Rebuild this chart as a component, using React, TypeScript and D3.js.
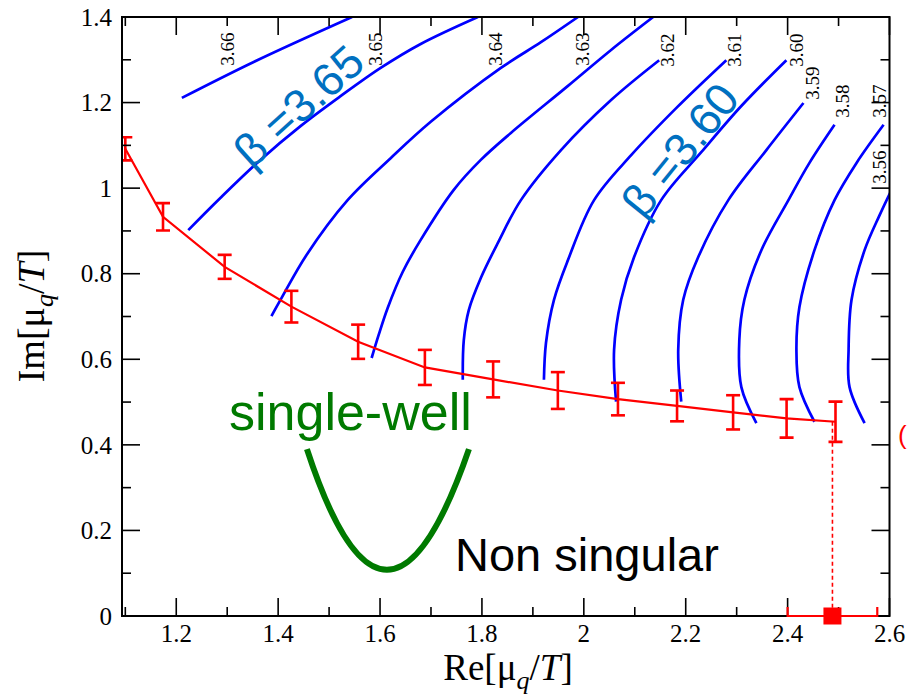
import React from 'react';
import * as d3 from 'd3';

// ---- axis ticks ----
const xTicks = [1.2, 1.4, 1.6, 1.8, 2.0, 2.2, 2.4, 2.6];
const xTickLabels = ['1.2', '1.4', '1.6', '1.8', '2', '2.2', '2.4', '2.6'];
const xMinor = [1.1, 1.3, 1.5, 1.7, 1.9, 2.1, 2.3, 2.5];
const yTicks = [0, 0.2, 0.4, 0.6, 0.8, 1.0, 1.2, 1.4];
const yTickLabels = ['0', '0.2', '0.4', '0.6', '0.8', '1', '1.2', '1.4'];
const yMinor = [0.1, 0.3, 0.5, 0.7, 0.9, 1.1, 1.3];

// ---- red transition line with error bars ----
const redX = [1.100, 1.174, 1.295, 1.426, 1.557, 1.688, 1.822, 1.949, 2.067, 2.183, 2.293, 2.398, 2.494];
const redY = [1.092, 0.933, 0.816, 0.723, 0.641, 0.581, 0.553, 0.527, 0.507, 0.491, 0.476, 0.462, 0.454];
const redErr = [0.027, 0.032, 0.028, 0.037, 0.040, 0.041, 0.042, 0.043, 0.038, 0.036, 0.040, 0.045, 0.047];

// endpoint on the real axis
const endX = 2.488;
const endXLo = 2.400;
const endXHi = 2.576;

// ---- blue contour lines (beta values) ----
const c366 = [[1.211, 1.211], [1.352, 1.295], [1.545, 1.40]];
const c365 = [[1.2236, 0.902], [1.2865, 0.977], [1.3652, 1.066], [1.4439, 1.145], [1.5225, 1.215], [1.6012, 1.281], [1.6798, 1.337], [1.792, 1.40]];
const c364 = [[1.3868, 0.701], [1.4065, 0.743], [1.4557, 0.844], [1.5363, 0.972], [1.6208, 1.070], [1.6995, 1.155], [1.8372, 1.281], [1.9158, 1.341], [1.9886, 1.40]];
const c363 = [[1.5835, 0.603], [1.5973, 0.657], [1.6150, 0.720], [1.6444, 0.804], [1.6798, 0.879], [1.7447, 0.996], [1.7978, 1.066], [1.8568, 1.129], [1.9689, 1.239], [2.0535, 1.323], [2.1361, 1.40]];
const c362 = [[1.7624, 0.552], [1.7644, 0.645], [1.7742, 0.715], [1.7978, 0.790], [1.8313, 0.872], [1.8765, 0.972], [1.9552, 1.089], [2.0535, 1.206], [2.1479, 1.299]];
const c361 = [[1.9217, 0.552], [1.9257, 0.638], [1.9414, 0.739], [1.9689, 0.832], [2.0201, 0.972], [2.0929, 1.077], [2.1813, 1.187], [2.2797, 1.299]];
const c360 = [[2.0633, 0.501], [2.0594, 0.622], [2.0732, 0.739], [2.0987, 0.839], [2.1518, 0.972], [2.2305, 1.084], [2.3091, 1.192], [2.3976, 1.299]];
const c359 = [[2.1912, 0.501], [2.1853, 0.622], [2.1951, 0.739], [2.2246, 0.839], [2.2836, 0.972], [2.3583, 1.089], [2.4311, 1.199]];
const c358 = [[2.3387, 0.451], [2.3092, 0.535], [2.3052, 0.645], [2.3151, 0.739], [2.3485, 0.855], [2.4016, 0.972], [2.4429, 1.059], [2.4921, 1.148]];
const c357 = [[2.4527, 0.454], [2.4232, 0.535], [2.4173, 0.622], [2.4232, 0.722], [2.4527, 0.855], [2.4921, 0.972], [2.5353, 1.059], [2.5884, 1.148]];
const c356 = [[2.5511, 0.451], [2.5216, 0.535], [2.5197, 0.622], [2.5255, 0.739], [2.5511, 0.855], [2.5806, 0.937], [2.602, 0.991]];
const contours = [c366, c365, c364, c363, c362, c361, c360, c359, c358, c357, c356];

// contour labels
const contourLabels = ['3.66', '3.65', '3.64', '3.63', '3.62', '3.61', '3.60', '3.59', '3.58', '3.57', '3.56'];
const contourLabelX = [1.2996, 1.5901, 1.8256, 1.9964, 2.1632, 2.2947, 2.4164, 2.4478, 2.5067, 2.5793, 2.5793];
const contourLabelY = [1.325, 1.325, 1.325, 1.325, 1.3227, 1.3227, 1.3227, 1.2456, 1.2036, 1.2036, 1.0493];

// beta annotations
const betaTexts = ['\u03B2 =3.65', '\u03B2 =3.60'];
const betaX = [1.440, 2.1887];
const betaY = [1.192, 1.0894];
const betaAngle = [-42, -51];

// single-well sketch (left top, bottom, right top)
const wellX = [1.4565, 1.6135, 1.7745];
const wellY = [0.390, 0.108, 0.390];

const W = 907;
const H = 698;

export default function App() {
  const x = d3.scaleLinear().domain([1.0935, 2.6]).range([122, 889.5]);
  const y = d3.scaleLinear().domain([0, 1.4]).range([616, 17]);
  const [x0, x1] = x.range();
  const [y0, y1] = y.range();

  const blueLine = d3
    .line<number[]>()
    .x((d) => x(d[0]))
    .y((d) => y(d[1]))
    .curve(d3.curveCatmullRom.alpha(0.5));

  const redPts = redX.map((v, i) => [v, redY[i]]);
  const redLine = d3
    .line<number[]>()
    .x((d) => x(d[0]))
    .y((d) => y(d[1]));

  // quadratic well
  const wl = [x(wellX[0]), y(wellY[0])];
  const wb = [x(wellX[1]), y(wellY[1])];
  const wr = [x(wellX[2]), y(wellY[2])];
  const cx = 2 * wb[0] - 0.5 * (wl[0] + wr[0]);
  const cy = 2 * wb[1] - 0.5 * (wl[1] + wr[1]);
  const wellPath = `M${wl[0]},${wl[1]} Q${cx},${cy} ${wr[0]},${wr[1]}`;

  const serif = "'Liberation Serif', 'DejaVu Serif', serif";
  const sans = "'Liberation Sans', Arial, sans-serif";
  const capW = 7;

  return (
    <div style={{ position: 'absolute', left: 0, top: 0, width: W, height: H, background: '#fff' }}>
      <svg width={W} height={H} style={{ display: 'block' }}>
        <defs>
          <clipPath id="plotClip">
            <rect x={x0} y={y1} width={x1 - x0} height={y0 - y1} />
          </clipPath>
        </defs>
        <rect width={W} height={H} fill="#fff" />

        {/* blue contours */}
        <g clipPath="url(#plotClip)">
          {contours.map((c, i) => (
            <path key={i} d={blueLine(c) || ''} fill="none" stroke="#0000ff" strokeWidth={2.7} />
          ))}
        </g>

        {/* red line + error bars */}
        <g clipPath="url(#plotClip)">
          <path d={redLine(redPts) || ''} fill="none" stroke="#ff0000" strokeWidth={2.2} />
          {redX.map((v, i) => {
            const px = x(v);
            const top = y(redY[i] + redErr[i]);
            const bot = y(redY[i] - redErr[i]);
            return (
              <g key={i} stroke="#ff0000" strokeWidth={2.6}>
                <line x1={px} x2={px} y1={top} y2={bot} />
                <line x1={px - capW} x2={px + capW} y1={top} y2={top} />
                <line x1={px - capW} x2={px + capW} y1={bot} y2={bot} />
              </g>
            );
          })}
          <line
            x1={x(endX)}
            x2={x(endX)}
            y1={y(redY[redY.length - 1])}
            y2={y(0)}
            stroke="#ff0000"
            strokeWidth={1.6}
            strokeDasharray="4,3"
          />
        </g>

        {/* contour labels */}
        {contourLabels.map((t, i) => (
          <text
            key={t}
            transform={`translate(${x(contourLabelX[i])},${y(contourLabelY[i])}) rotate(-90)`}
            textAnchor="middle"
            dy="0.35em"
            fontFamily={serif}
            fontSize={19}
            fill="#000"
          >
            {t}
          </text>
        ))}

        {/* beta annotations */}
        {betaTexts.map((t, i) => (
          <text
            key={t}
            transform={`translate(${x(betaX[i])},${y(betaY[i])}) rotate(${betaAngle[i]})`}
            textAnchor="middle"
            dy="0.35em"
            fontFamily={sans}
            fontSize={46}
            fill="#0070c0"
          >
            {t}
          </text>
        ))}

        {/* single well */}
        <path d={wellPath} fill="none" stroke="#007a00" strokeWidth={6} strokeLinecap="butt" />
        <text x={229} y={430} fontFamily={sans} fontSize={52} fill="#007a00">
          single-well
        </text>
        <text x={455} y={571} fontFamily={sans} fontSize={47} fill="#000">
          Non singular
        </text>
        <text x={898} y={444} fontFamily={sans} fontSize={26} fill="#ff0000">
          (
        </text>

        {/* frame */}
        <rect x={x0} y={y1} width={x1 - x0} height={y0 - y1} fill="none" stroke="#000" strokeWidth={2} />

        {/* ticks */}
        <g stroke="#000" strokeWidth={1.6}>
          {xTicks.map((v) => (
            <g key={'xt' + v}>
              <line x1={x(v)} x2={x(v)} y1={y0} y2={y0 - 18} />
              <line x1={x(v)} x2={x(v)} y1={y1} y2={y1 + 18} />
            </g>
          ))}
          {xMinor.map((v) => (
            <g key={'xm' + v}>
              <line x1={x(v)} x2={x(v)} y1={y0} y2={y0 - 9} />
              <line x1={x(v)} x2={x(v)} y1={y1} y2={y1 + 9} />
            </g>
          ))}
          {yTicks.map((v) => (
            <g key={'yt' + v}>
              <line x1={x0} x2={x0 + 18} y1={y(v)} y2={y(v)} />
              <line x1={x1} x2={x1 - 18} y1={y(v)} y2={y(v)} />
            </g>
          ))}
          {yMinor.map((v) => (
            <g key={'ym' + v}>
              <line x1={x0} x2={x0 + 9} y1={y(v)} y2={y(v)} />
              <line x1={x1} x2={x1 - 9} y1={y(v)} y2={y(v)} />
            </g>
          ))}
        </g>

        {/* endpoint marker on the real axis */}
        <g stroke="#ff0000" strokeWidth={2.2}>
          <line x1={x(endXLo)} x2={x(endXHi)} y1={y(0)} y2={y(0)} />
          <line x1={x(endXLo)} x2={x(endXLo)} y1={y(0) - 9} y2={y(0) + 1} />
          <line x1={x(endXHi)} x2={x(endXHi)} y1={y(0) - 9} y2={y(0) + 1} />
        </g>
        <rect x={x(endX) - 9} y={y(0) - 8.5} width={18} height={17} fill="#ff0000" />

        {/* tick labels */}
        {xTicks.map((v, i) => (
          <text key={'xl' + v} x={x(v)} y={642} textAnchor="middle" fontFamily={serif} fontSize={25} fill="#000">
            {xTickLabels[i]}
          </text>
        ))}
        {yTicks.map((v, i) => (
          <text
            key={'yl' + v}
            x={112}
            y={y(v)}
            dy="0.35em"
            textAnchor="end"
            fontFamily={serif}
            fontSize={25}
            fill="#000"
          >
            {yTickLabels[i]}
          </text>
        ))}

        {/* axis titles */}
        <text x={508} y={680} textAnchor="middle" fontFamily={serif} fontSize={37} fill="#000">
          <tspan>Re[μ</tspan>
          <tspan fontStyle="italic" fontSize={26} dy={9}>q</tspan>
          <tspan dy={-9}>/</tspan>
          <tspan fontStyle="italic">T</tspan>
          <tspan>]</tspan>
        </text>
        <text
          transform={`translate(44,316) rotate(-90)`}
          textAnchor="middle"
          fontFamily={serif}
          fontSize={38}
          fill="#000"
        >
          <tspan>Im[μ</tspan>
          <tspan fontStyle="italic" fontSize={26} dy={9}>q</tspan>
          <tspan dy={-9}>/</tspan>
          <tspan fontStyle="italic">T</tspan>
          <tspan>]</tspan>
        </text>
      </svg>
    </div>
  );
}
